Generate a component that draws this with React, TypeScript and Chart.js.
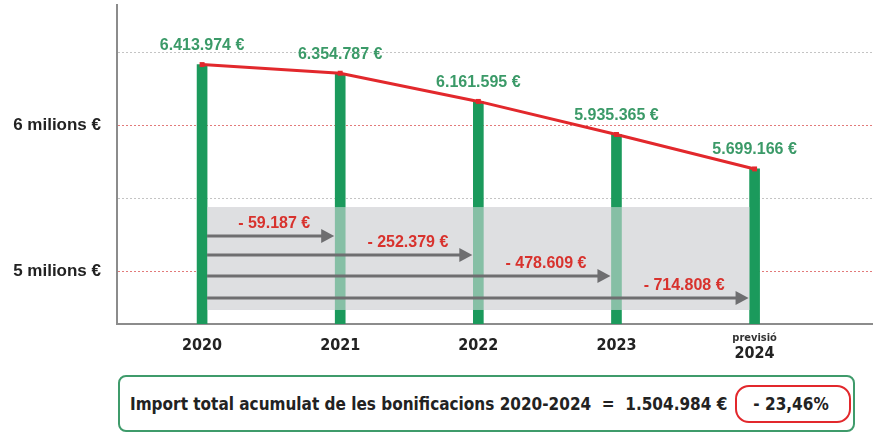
import React, { useEffect, useRef } from "react";
import { Chart, registerables } from "chart.js";

Chart.register(...registerables);

// ---- data ----
const YEARS = [2020, 2021, 2022, 2023, 2024];
const YEAR_LABELS = ["2020", "2021", "2022", "2023", "2024"];
const FORECAST_NOTE = "previsió";
const AMOUNTS = [6413974, 6354787, 6161595, 5935365, 5699166];
const AMOUNT_LABELS = ["6.413.974 €", "6.354.787 €", "6.161.595 €", "5.935.365 €", "5.699.166 €"];
const SAVING_LABELS = ["- 59.187 €", "- 252.379 €", "- 478.609 €", "- 714.808 €"];
const Y_TICKS = [5000000, 5500000, 6000000, 6500000];
const Y_MAJOR_TICKS = [5000000, 6000000];
const Y_TICK_LABELS: Record<number, string> = { 5000000: "5 milions €", 6000000: "6 milions €" };
const TOTAL_TEXT = "Import total acumulat de les bonificacions 2020-2024  =  1.504.984 €";
const TOTAL_PCT = "- 23,46%";

// ---- layout constants ----
const Y_MIN = 4637000;
const Y_MAX = 6822000;
const X_MIN = 2019.384;
const X_MAX = 2024.85;
const BAND_TOP = 5438000;
const BAND_BOTTOM = 4733000;
const ARROW_OFFSETS = [29, 48, 69, 91];

const GREEN = "#1b9a5c";
const LABEL_GREEN = "#3b9a68";
const RED = "#e2282c";
const LABEL_RED = "#d8322d";
const ARROW = "#6e6e70";
const SANS = '"Liberation Sans", Arial, sans-serif';
const NARROW = '"Liberation Sans Narrow", "DejaVu Sans Condensed", "Liberation Sans", sans-serif';

const overlayPlugin = {
  id: "overlay",
  beforeDatasetsDraw(chart: any) {
    const { ctx, chartArea } = chart;
    const xs = chart.scales.x, ys = chart.scales.y;
    ctx.save();
    // dotted grid lines
    ctx.lineWidth = 1;
    ctx.setLineDash([2, 2]);
    Y_TICKS.forEach((v) => {
      const py = Math.round(ys.getPixelForValue(v)) + 0.5;
      ctx.strokeStyle = Y_MAJOR_TICKS.includes(v) ? "#e27a7a" : "#c4c4c4";
      ctx.beginPath();
      ctx.moveTo(chartArea.left + 1, py);
      ctx.lineTo(chartArea.right, py);
      ctx.stroke();
    });
    ctx.setLineDash([]);
    // grey band
    const l = xs.getPixelForValue(YEARS[0]) + 5;
    const r = xs.getPixelForValue(YEARS[YEARS.length - 1]) - 5;
    const t = ys.getPixelForValue(BAND_TOP);
    const b = ys.getPixelForValue(BAND_BOTTOM);
    ctx.fillStyle = "#dedfe1";
    ctx.fillRect(l, t, r - l, b - t);
    ctx.restore();
  },
  afterDatasetsDraw(chart: any) {
    const { ctx } = chart;
    const xs = chart.scales.x, ys = chart.scales.y;
    const l = xs.getPixelForValue(YEARS[0]) + 5;
    const r = xs.getPixelForValue(YEARS[YEARS.length - 1]) - 5;
    const t = ys.getPixelForValue(BAND_TOP);
    const b = ys.getPixelForValue(BAND_BOTTOM);
    ctx.save();
    ctx.fillStyle = "rgba(222,223,225,0.55)";
    ctx.fillRect(l, t, r - l, b - t);

    // arrows + saving labels
    SAVING_LABELS.forEach((lab, i) => {
      const yy = t + ARROW_OFFSETS[i];
      const x1 = xs.getPixelForValue(YEARS[i + 1]) - 6;
      ctx.strokeStyle = ARROW;
      ctx.fillStyle = ARROW;
      ctx.lineWidth = 3;
      ctx.beginPath();
      ctx.moveTo(l, yy);
      ctx.lineTo(x1 - 10, yy);
      ctx.stroke();
      ctx.beginPath();
      ctx.moveTo(x1, yy);
      ctx.lineTo(x1 - 13, yy - 7);
      ctx.lineTo(x1 - 13, yy + 7);
      ctx.closePath();
      ctx.fill();
      ctx.fillStyle = LABEL_RED;
      ctx.font = `bold 16px ${SANS}`;
      ctx.textAlign = "right";
      ctx.textBaseline = "middle";
      ctx.fillText(lab, x1 - 24, yy - 12);
    });

    // value labels
    AMOUNT_LABELS.forEach((lab, i) => {
      const px = xs.getPixelForValue(YEARS[i]);
      const py = ys.getPixelForValue(AMOUNTS[i]);
      ctx.fillStyle = LABEL_GREEN;
      ctx.font = `bold 16px ${SANS}`;
      ctx.textAlign = "center";
      ctx.textBaseline = "middle";
      ctx.fillText(lab, px, py - 19);
    });

    // forecast note
    const fx = xs.getPixelForValue(YEARS[YEARS.length - 1]);
    ctx.fillStyle = "#333";
    ctx.font = `bold 11px ${NARROW}`;
    ctx.textAlign = "center";
    ctx.textBaseline = "middle";
    ctx.fillText(FORECAST_NOTE, fx, 338);
    ctx.restore();
  },
};

export default function App() {
  const ref = useRef<HTMLCanvasElement | null>(null);

  useEffect(() => {
    if (!ref.current) return;
    const chart = new Chart(ref.current, {
      type: "bar",
      data: {
        datasets: [
          {
            type: "line",
            data: YEARS.map((x, i) => ({ x, y: AMOUNTS[i] })),
            borderColor: RED,
            backgroundColor: RED,
            borderWidth: 3,
            pointStyle: "rect",
            pointRadius: 3.5,
            pointBackgroundColor: RED,
            pointBorderWidth: 0,
            order: 0,
          } as any,
          {
            type: "bar",
            data: YEARS.map((x, i) => ({ x, y: AMOUNTS[i] })),
            backgroundColor: GREEN,
            barThickness: 10,
            order: 1,
          } as any,
        ],
      },
      plugins: [overlayPlugin],
      options: {
        animation: false,
        responsive: false,
        layout: { padding: { top: 5, right: 5, left: 0, bottom: 0 } },
        plugins: { legend: { display: false }, tooltip: { enabled: false } },
        scales: {
          x: {
            type: "linear",
            offset: false,
            min: X_MIN,
            max: X_MAX,
            afterBuildTicks: (s: any) => {
              s.ticks = YEARS.map((v) => ({ value: v }));
            },
            afterFit: (s: any) => {
              s.height = 46;
              s.paddingLeft = 0;
              s.paddingRight = 0;
            },
            grid: { display: false, drawTicks: false, offset: false },
            border: { color: "#8c8c8c", width: 2 },
            ticks: {
              padding: 12,
              color: "#222",
              font: (c: any) => ({
                family: NARROW,
                size: 16,
                weight: "bold",
                lineHeight: c.index === YEARS.length - 1 ? 2.2 : 1.2,
              }),
              callback: (v: any) => {
                const i = YEARS.indexOf(Number(v));
                return i >= 0 ? YEAR_LABELS[i] : "";
              },
              maxRotation: 0,
              autoSkip: false,
            },
          },
          y: {
            type: "linear",
            min: Y_MIN,
            max: Y_MAX,
            afterBuildTicks: (s: any) => {
              s.ticks = Y_TICKS.map((v) => ({ value: v }));
            },
            afterFit: (s: any) => {
              s.width = 117;
              s.paddingTop = 0;
              s.paddingBottom = 0;
            },
            grid: { display: false, drawTicks: false },
            border: { color: "#8c8c8c", width: 2 },
            ticks: {
              padding: 16,
              color: "#222",
              font: { family: SANS, size: 17, weight: "bold" },
              callback: (v: any) => Y_TICK_LABELS[Number(v)] ?? "",
            },
          },
        },
      } as any,
    });
    return () => chart.destroy();
  }, []);

  return (
    <div style={{ position: "absolute", left: 0, top: 0, width: 877, height: 435, background: "#fff" }}>
      <canvas ref={ref} width={877} height={370} style={{ display: "block" }} />
      <div
        style={{
          position: "absolute",
          left: 118,
          top: 375,
          width: 737,
          height: 57,
          boxSizing: "border-box",
          border: "2px solid #3f9b6b",
          borderRadius: 8,
          display: "flex",
          alignItems: "center",
          paddingLeft: 10,
          fontFamily: NARROW,
          fontWeight: "bold",
          fontSize: 17,
          color: "#222",
          whiteSpace: "pre",
        }}
      >
        <span>{TOTAL_TEXT}</span>
        <span
          style={{
            marginLeft: 8,
            border: `2px solid ${RED}`,
            borderRadius: 14,
            padding: "7px 20px 7px 16px",
          }}
        >
          {TOTAL_PCT}
        </span>
      </div>
    </div>
  );
}
